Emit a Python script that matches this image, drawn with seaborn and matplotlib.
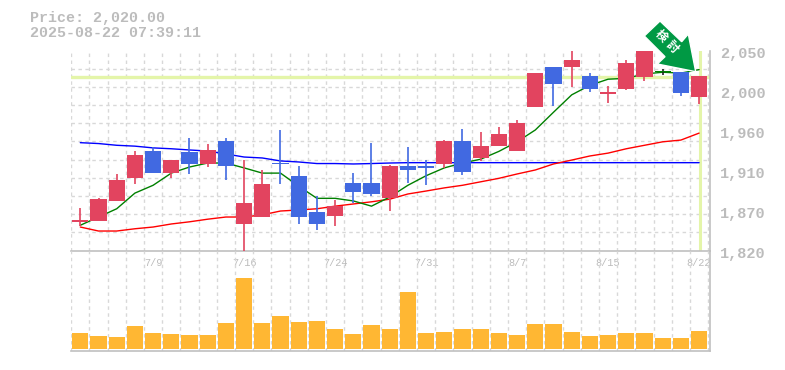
import matplotlib
matplotlib.use("Agg")
import matplotlib.pyplot as plt
from matplotlib.patches import Polygon
from matplotlib.transforms import ScaledTranslation
import numpy as np
import pandas as pd
import seaborn as sns

sns.set_theme(style="white")
plt.rcParams['font.family'] = ['Liberation Mono', 'DejaVu Sans']

# prices
opens = [1853,1854,1877,1903,1934,1909,1933,1920,1946,1850.5,1858.5,1920.6,1906,1864,1860,1898,1898,1880,1917,1917,1920,1946,1926,1940,1934,1985,2031,2031,2020.6,2000,2005.7,2019.5,2025,2025,1996.5]
closes = [1855,1879,1901,1930,1909,1924,1919.5,1936,1917,1875,1896.5,1919.5,1858.5,1850.5,1871,1887,1885,1917,1912.6,1915,1946,1910,1940,1954,1967,2024,2011.5,2039,2005.7,2002,2036,2050,2025,2001,2020.6]
highs = [1869,1880,1908,1934,1939,1924,1949,1942.5,1949,1924,1912.6,1958.6,1917,1883,1878,1909,1944,1918,1939,1924,1947,1960,1956,1962,1970,2024,2031,2050,2024,2009,2039,2050,2029,2025,2021]
lows = [1848,1854,1877,1896.5,1909,1903,1908,1916,1901,1820,1858.5,1896.5,1850.5,1844,1848,1875,1883,1865,1898,1895,1915,1907,1923,1940,1934,1985,1986,2008,2002,1990,2004.6,2015,2022,1998,1988]
# moving averages
ma_short = [1849,1858.5,1868,1886,1895,1909,1916,1920.6,1920.6,1915,1909,1909,1894,1880,1880,1877,1871,1881.5,1895,1906,1915,1920.6,1925,1934,1945,1958.6,1979,1999,2010,2017,2018,2023,2025,2024,2028]
ma_mid = [1847,1842.4,1842.4,1845,1847,1850.5,1853,1856,1858.5,1858.5,1861,1865.4,1866.6,1868,1871,1873.5,1876,1879,1885,1888.4,1892,1895,1899,1903,1908,1912.6,1919.5,1924,1928.7,1932,1937,1941,1945,1947,1955]
ma_long = [1944,1943,1941,1940,1938,1937,1935.6,1934.4,1931,1927.5,1926.4,1923,1921.8,1920,1920,1919.5,1920,1920.6,1921,1921,1921,1921,1921,1921,1921,1921,1921,1921,1921,1921,1921,1921,1921,1921,1921]
volumes = [48,39,36,69,48,45,42,42,78,213,78,99,81,84,60,45,72,60,171,48,51,60,60,48,42,75,75,51,39,42,48,48,33,33,54]
tick_index = [4,9,14,19,24,29,34]
tick_labels = ['7/9','7/16','7/24','7/31','8/7','8/15','8/22']
y_ticks = [2050,2004,1958,1912,1866,1820]
y_labels = ['2,050','2,000','1,960','1,910','1,870','1,820']
current_price = 2020
title_lines = ['Price: 2,020.00', '2025-08-22 07:39:11']
badge_text = '検討'

UP = '#E2445F'; DOWN = '#4169E1'; DOJI = '#222222'
GRID = '#d8d8d8'; AXIS = '#c0c0c0'; TEXT = '#bcbcbc'
MARK = '#e4f5a9'; VOL = '#FFB733'; ARROW = '#009944'

W, H = 785, 370
n = len(opens)
idx = np.arange(n)
df = pd.DataFrame(dict(i=idx, o=opens, c=closes, h=highs, l=lows, s=ma_short, m=ma_mid, g=ma_long, v=volumes))

fig = plt.figure(figsize=(W/100, H/100), dpi=100)
L, R = 70.5, 710.0
ax = fig.add_axes([L/W, 1-250.5/H, (R-L)/W, 200/H])
av = fig.add_axes([L/W, 1-350.5/H, (R-L)/W, 100/H])
xlim = ((L-80.3)/18.2, (R-80.3)/18.2)

for a in (ax, av):
    a.set_facecolor('none')
    a.set_xlim(*xlim)
    a.set_xticks(np.r_[-0.5, idx+0.5], minor=True)
    a.grid(True, which='minor', axis='x', color=GRID, lw=1, ls=(0, (2.5, 2.5)))
    a.set_axisbelow(True)
    for s in ('top', 'left'):
        a.spines[s].set_visible(False)
    for s in ('bottom', 'right'):
        a.spines[s].set_color(AXIS)
        a.spines[s].set_linewidth(1.2)
    a.tick_params(which='both', length=0)

# price panel
ax.set_ylim(1820, 2050)
ax.set_yticks(np.linspace(1820, 2050, 12), minor=True)
ax.grid(True, which='minor', axis='y', color=GRID, lw=1, ls=(0, (2.5, 2.5)))
ax.yaxis.tick_right()
ax.set_yticks(y_ticks)
ax.set_yticklabels(y_labels, color=TEXT, fontsize=11, fontweight='bold')
ax.tick_params(axis='y', which='major', pad=7)
shift = ScaledTranslation(0, -2/100, fig.dpi_scale_trans)
for lab in ax.get_yticklabels():
    lab.set_transform(lab.get_transform() + shift)
ax.set_xticks([])

ax.axhline(current_price, color=MARK, lw=2.4, zorder=1.5)
ax.axvline(idx[-1]+0.05, color=MARK, lw=2.2, zorder=1.5)

for col, colr in (('g', '#0000ff'), ('m', '#ff0000'), ('s', '#008000')):
    sns.lineplot(data=df, x='i', y=col, color=colr, lw=1.0, ax=ax, zorder=2, errorbar=None)
ax.set_xlabel(''); ax.set_ylabel('')

colors = [DOJI if i == 32 else (UP if c >= o else DOWN) for i, (o, c) in enumerate(zip(opens, closes))]
df['lo_body'] = df[['o', 'c']].min(axis=1)
df['hi_body'] = df[['o', 'c']].max(axis=1)
ax.vlines(df.i, df.l, df.h, colors=colors, lw=1.2, zorder=3, clip_on=False)
hb = np.maximum(df.hi_body-df.lo_body, 1.6)
ax.bar(df.i, hb, bottom=df.lo_body, width=0.88, color=[('#008000' if i == 32 else c) for i, c in enumerate(colors)], lw=0, zorder=4, clip_on=False)

# volume panel
sns.barplot(data=df, x='i', y='v', native_scale=True, color=VOL, saturation=1, width=0.88, ax=av, zorder=3, linewidth=0)
av.set_xlim(*xlim)
av.set_ylim(-6, 294)
av.set_yticks([])
av.set_xlabel(''); av.set_ylabel('')
av.xaxis.tick_top()
av.set_xticks(tick_index)
av.set_xticklabels(tick_labels, color=TEXT, fontsize=7.4)
av.tick_params(axis='x', which='major', pad=-12.5, length=0)

# header
fig.text(29.5/W, 1-18/H, title_lines[0], color=TEXT, fontsize=10.8, va='center', ha='left', fontweight='bold')
fig.text(29.5/W, 1-33/H, title_lines[1], color=TEXT, fontsize=10.8, va='center', ha='left', fontweight='bold')

# arrow badge, in figure pixels
pts = [(660,21),(681.7,41.7),(688.3,34),(695.7,71.7),(657.3,64),(665,56.7),(644.3,36)]
fig.add_artist(Polygon([(x/W, 1-y/H) for x, y in pts], closed=True, transform=fig.transFigure,
                       facecolor=ARROW, edgecolor='white', lw=1.0, zorder=10))
for ch, (x, y) in zip(badge_text, [(661.5,35.5),(672,46.5)]):
    fig.text(x/W, 1-y/H, ch, color='white', fontsize=8.5, rotation=-45, ha='center', va='center',
             family=['Noto Sans CJK JP', 'DejaVu Sans'], fontweight='bold', zorder=11)

fig.savefig('out.png', dpi=100)
